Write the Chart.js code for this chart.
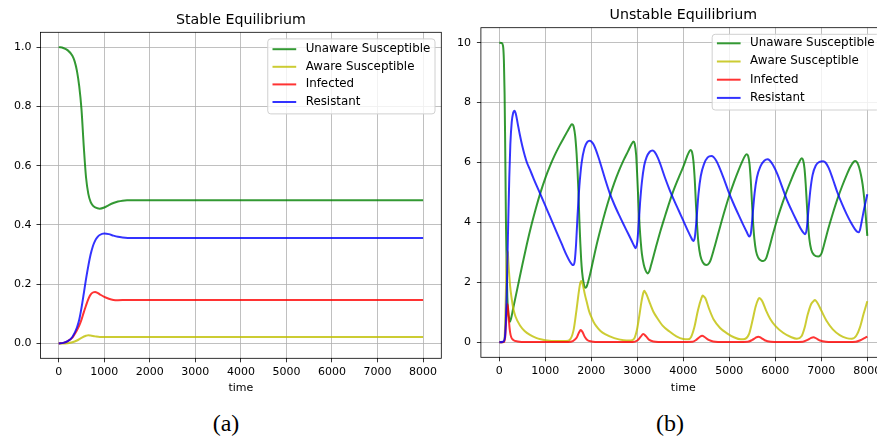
<!DOCTYPE html>
<html>
<head>
<meta charset="utf-8">
<title>Stable and Unstable Equilibrium</title>
<script src="https://cdn.jsdelivr.net/npm/chart.js@4.4.1/dist/chart.umd.min.js"></script>
<style>
  html, body { margin: 0; padding: 0; background: #fff; overflow: hidden; width: 877px; height: 439px; }
  #wrap { position: relative; width: 877px; height: 439px; }
  canvas { position: absolute; top: 0; }
  #chartA { left: 0; }
  #chartB { left: 445px; }
  .cap { position: absolute; top: 411px; font-family: "Liberation Serif", "DejaVu Serif", serif;
         font-size: 24px; line-height: 1; color: #000; transform: translateX(-50%); white-space: nowrap; }
</style>
</head>
<body>
<div id="wrap">
  <canvas id="chartA" width="445" height="400"></canvas>
  <canvas id="chartB" width="445" height="400"></canvas>
  <div class="cap" style="left:226px">(a)</div>
  <div class="cap" style="left:670px">(b)</div>
</div>
<script>
// ---------- series labels ----------
const seriesLabels = ['Unaware Susceptible', 'Aware Susceptible', 'Infected', 'Resistant'];

// ---------- tick labels ----------
const xTicks = [0, 1000, 2000, 3000, 4000, 5000, 6000, 7000, 8000];
const yTicksA = [0.0, 0.2, 0.4, 0.6, 0.8, 1.0];
const yTicksB = [0, 2, 4, 6, 8, 10];

// ---------- (a) stable equilibrium ----------
const tUnawareA = [0,100,200,300,350,400,450,500,550,600,650,700,750,800,900,1000,1100,1200,1300,1400,1500,2000,8000];
const unawareA  = [1.000,0.997,0.989,0.971,0.952,0.920,0.868,0.790,0.665,0.560,0.505,0.478,0.465,0.459,0.455,0.459,0.467,0.474,0.479,0.482,0.483,0.483,0.483];

const tAwareA = [0,200,300,400,500,600,650,700,800,900,1000,1200,8000];
const awareA  = [0,0.001,0.004,0.010,0.019,0.026,0.028,0.027,0.024,0.022,0.022,0.022,0.022];

const tInfectedA = [0,100,200,300,400,450,500,550,600,650,700,750,800,850,900,1000,1100,1200,1300,1500,2000,8000];
const infectedA  = [0,0.002,0.008,0.020,0.045,0.060,0.080,0.105,0.128,0.150,0.165,0.172,0.174,0.171,0.166,0.157,0.151,0.147,0.146,0.147,0.147,0.147];

const tResistantA = [0,100,200,300,400,450,500,550,600,650,700,750,800,850,900,1000,1100,1200,1300,1400,1600,2000,8000];
const resistantA  = [0,0.002,0.008,0.022,0.054,0.080,0.120,0.168,0.218,0.262,0.300,0.328,0.347,0.359,0.366,0.371,0.369,0.364,0.360,0.358,0.356,0.356,0.356];

// ---------- (b) unstable equilibrium ----------
const tUnawareB = [0,50,80,100,115,125,135,146,160,175,195,215,233,260,300,400,500,600,700,800,900,1000,1100,1200,1300,1400,1480,1540,1575,1600,1620,1650,1680,1700,1720,1740,1760,1780,1800,1830,1855,1875,1900,1950,2000,2100,2200,2300,2400,2500,2600,2700,2800,2870,2915,2945,2975,3000,3025,3050,3075,3100,3140,3180,3220,3260,3300,3400,3500,3600,3700,3800,3900,4000,4080,4130,4160,4190,4220,4250,4275,4300,4330,4370,4420,4500,4560,4600,4700,4800,4900,5000,5100,5200,5280,5340,5380,5410,5440,5465,5490,5515,5545,5580,5630,5700,5740,5800,5850,5950,6050,6150,6250,6350,6450,6520,6575,6605,6635,6660,6685,6710,6740,6780,6840,6935,7000,7050,7150,7250,7350,7450,7550,7630,7700,7740,7780,7820,7860,7900,7940,7970,8000];
const unawareB  = [10.0,9.99,9.9,9.4,8.3,7.0,5.5,3.8,2.5,1.5,1.0,0.8,0.69,0.82,1.12,1.85,2.58,3.28,3.92,4.5,5.02,5.48,5.88,6.23,6.54,6.82,7.04,7.2,7.28,7.26,7.18,6.88,6.3,5.75,5.05,4.1,3.35,2.75,2.35,2.0,1.85,1.82,1.86,2.12,2.45,3.15,3.77,4.34,4.86,5.32,5.72,6.07,6.38,6.6,6.7,6.62,6.25,5.5,4.65,3.9,3.35,2.95,2.6,2.4,2.3,2.37,2.58,3.15,3.7,4.2,4.68,5.12,5.5,5.86,6.2,6.37,6.42,6.35,6.05,5.4,4.6,3.9,3.3,2.9,2.68,2.58,2.64,2.77,3.3,3.86,4.4,4.9,5.34,5.74,6.03,6.22,6.28,6.22,5.95,5.45,4.75,4.05,3.45,3.05,2.82,2.72,2.71,2.8,3.05,3.62,4.15,4.62,5.05,5.44,5.8,6.02,6.14,6.08,5.8,5.3,4.65,4.0,3.45,3.1,2.92,2.86,2.95,3.2,3.78,4.3,4.78,5.2,5.58,5.85,6.02,6.05,6.0,5.85,5.6,5.25,4.7,4.15,3.55];

const tAwareB = [0,100,120,140,155,170,185,200,233,270,304,350,450,550,667,800,900,1000,1250,1450,1550,1620,1680,1730,1760,1780,1800,1820,1860,1900,1950,2000,2050,2100,2200,2300,2500,2700,2850,2930,2990,3040,3090,3130,3150,3170,3200,3280,3350,3430,3550,3700,3850,4000,4100,4170,4240,4320,4400,4420,4440,4480,4560,4660,4800,4950,5100,5250,5350,5430,5500,5570,5630,5650,5670,5720,5800,5890,6000,6170,6350,6470,6570,6640,6700,6780,6840,6860,6880,6930,7000,7120,7250,7400,7550,7660,7760,7840,7920,8000];
const awareB  = [0,0.02,0.3,1.4,2.5,3.05,3.0,2.6,1.91,1.45,1.13,0.87,0.56,0.38,0.25,0.15,0.1,0.07,0.04,0.04,0.12,0.45,1.1,1.7,1.98,2.05,2.0,1.9,1.6,1.35,1.05,0.85,0.68,0.56,0.38,0.27,0.14,0.07,0.06,0.12,0.4,0.85,1.35,1.65,1.72,1.68,1.6,1.28,1.02,0.82,0.56,0.36,0.2,0.11,0.1,0.18,0.5,1.08,1.5,1.56,1.54,1.47,1.12,0.76,0.48,0.3,0.17,0.1,0.12,0.28,0.7,1.18,1.44,1.48,1.46,1.36,1.06,0.78,0.55,0.32,0.17,0.12,0.2,0.5,0.9,1.28,1.39,1.41,1.39,1.28,1.06,0.7,0.43,0.24,0.14,0.12,0.22,0.5,0.95,1.37];

const tInfectedB = [0,100,130,150,165,175,190,210,233,260,304,400,600,1500,1600,1680,1730,1770,1810,1860,1920,2000,2200,2900,3000,3070,3130,3190,3260,3350,3600,4200,4280,4350,4410,4470,4550,4650,4900,5400,5500,5570,5630,5690,5770,5900,6100,6600,6700,6770,6830,6890,6970,7100,7400,7750,7850,7950,8000];
const infectedB  = [0,0.01,0.2,0.75,1.15,1.28,1.15,0.7,0.35,0.17,0.08,0.03,0.01,0.01,0.04,0.15,0.32,0.41,0.34,0.18,0.07,0.03,0.01,0.01,0.06,0.18,0.28,0.2,0.08,0.03,0.01,0.02,0.08,0.17,0.22,0.17,0.08,0.03,0.01,0.02,0.08,0.15,0.19,0.15,0.07,0.02,0.01,0.02,0.08,0.14,0.17,0.13,0.06,0.02,0.01,0.02,0.07,0.15,0.19];

const tResistantB = [0,80,120,140,160,180,200,217,240,270,300,330,360,400,450,500,550,600,667,750,885,1000,1100,1248,1350,1465,1540,1580,1610,1640,1670,1700,1740,1790,1850,1910,1965,2000,2050,2100,2150,2200,2300,2400,2500,2600,2700,2800,2880,2930,2960,3000,3030,3060,3100,3150,3200,3270,3330,3380,3450,3500,3600,3700,3800,3900,4000,4100,4170,4217,4250,4290,4330,4380,4450,4530,4610,4660,4720,4800,4900,5000,5100,5200,5300,5380,5435,5470,5510,5550,5600,5680,5760,5830,5880,5950,6050,6150,6250,6350,6450,6550,6610,6646,6680,6720,6760,6810,6880,6960,7040,7090,7160,7250,7350,7450,7550,7650,7730,7780,7810,7840,7880,7930,8000];
const resistantB  = [0,0.02,0.15,0.6,1.6,3.0,4.4,5.5,6.6,7.35,7.65,7.73,7.62,7.3,6.9,6.55,6.25,6.0,5.76,5.45,4.97,4.56,4.2,3.67,3.31,2.9,2.68,2.6,2.58,2.72,3.3,4.2,5.2,6.0,6.48,6.68,6.73,6.7,6.6,6.42,6.2,5.96,5.45,4.98,4.6,4.26,3.94,3.63,3.38,3.22,3.14,3.35,3.95,4.65,5.35,5.9,6.17,6.36,6.4,6.35,6.15,5.95,5.5,5.1,4.74,4.4,4.06,3.72,3.5,3.38,3.5,4.15,4.95,5.55,5.95,6.17,6.22,6.18,6.05,5.78,5.38,4.96,4.6,4.26,3.93,3.68,3.53,3.65,4.3,4.98,5.5,5.88,6.06,6.11,6.07,5.92,5.6,5.18,4.76,4.42,4.1,3.8,3.66,3.61,3.75,4.4,5.05,5.58,5.9,6.02,6.04,6.0,5.82,5.45,5.0,4.62,4.28,3.98,3.78,3.69,3.67,3.75,4.05,4.45,4.94];

// ---------- styling ----------
const FONT = '"DejaVu Sans", "Liberation Sans", sans-serif';
const lineColors = ['rgba(0,128,0,0.8)', 'rgba(191,191,0,0.8)', 'rgba(255,0,0,0.8)', 'rgba(0,0,255,0.8)'];
const drawOrder = [4, 3, 2, 1]; // resistant drawn on top

function toPoints(ts, vs) { return ts.map((t, i) => ({ x: t, y: vs[i] })); }

function makeDatasets(series) {
  return series.map((s, i) => ({
    label: seriesLabels[i],
    data: toPoints(s[0], s[1]),
    borderColor: lineColors[i],
    backgroundColor: lineColors[i],
    borderWidth: 2,
    pointRadius: 0,
    fill: false,
    cubicInterpolationMode: 'monotone',
    order: drawOrder[i]
  }));
}

// axes frame, title and in-plot legend
const framePlugin = {
  id: 'framePlugin',
  afterDatasetsDraw(chart, args, o) {
    const { ctx, chartArea: a } = chart;
    ctx.save();
    // frame
    ctx.strokeStyle = '#000';
    ctx.lineWidth = 0.8;
    ctx.strokeRect(a.left, a.top, a.right - a.left, a.bottom - a.top);
    // title
    ctx.fillStyle = '#000';
    ctx.font = '14.2px ' + FONT;
    ctx.textAlign = 'center';
    ctx.textBaseline = 'alphabetic';
    ctx.fillText(o.title, (a.left + a.right) / 2, a.top - 8.5);
    // legend
    const fs = 11.85;
    ctx.font = fs + 'px ' + FONT;
    const sets = chart.data.datasets;
    const tw = Math.max(...sets.map(d => ctx.measureText(d.label).width));
    const pad = 0.4 * fs, hl = 2 * fs, htp = 0.8 * fs;
    const w = pad + hl + htp + tw + pad;
    const h = o.boxH;
    const x0 = a.right - 6.3 - w;
    const y0 = a.top + 6.6;
    ctx.beginPath();
    ctx.roundRect(x0, y0, w, h, 3);
    ctx.fillStyle = 'rgba(255,255,255,0.8)';
    ctx.fill();
    ctx.strokeStyle = '#d0d0d0';
    ctx.lineWidth = 1;
    ctx.stroke();
    ctx.textAlign = 'left';
    sets.forEach((d, i) => {
      const cy = y0 + o.firstRow + i * o.rowH;
      ctx.beginPath();
      ctx.moveTo(x0 + pad, cy);
      ctx.lineTo(x0 + pad + hl, cy);
      ctx.strokeStyle = d.borderColor;
      ctx.lineWidth = 2;
      ctx.stroke();
      ctx.fillStyle = '#000';
      ctx.fillText(d.label, x0 + pad + hl + htp, cy + 0.25 * fs);
    });
    ctx.restore();
  }
};

function makeChart(id, cfg) {
  return new Chart(document.getElementById(id), {
    type: 'line',
    data: { datasets: makeDatasets(cfg.series) },
    options: {
      responsive: false,
      animation: false,
      devicePixelRatio: 1,
      layout: { padding: { left: 0, right: cfg.padRight, top: cfg.padTop, bottom: 0 } },
      plugins: {
        legend: { display: false },
        tooltip: { enabled: false },
        framePlugin: { title: cfg.title, boxH: cfg.boxH, firstRow: cfg.firstRow, rowH: cfg.rowH }
      },
      scales: {
        x: {
          type: 'linear',
          min: -400, max: 8400,
          afterBuildTicks: s => { s.ticks = xTicks.map(v => ({ value: v })); },
          afterFit: s => { s.height = cfg.xHeight; },
          grid: { color: '#b0b0b0', lineWidth: 0.8, tickColor: '#000', tickLength: 4, tickWidth: 0.8 },
          border: { display: false },
          ticks: { color: '#000', font: { family: FONT, size: 11 }, padding: 3, maxRotation: 0, autoSkip: false,
                   callback: v => String(v) },
          title: { display: true, text: 'time', color: '#000', font: { family: FONT, size: 11 },
                   padding: { top: 0, bottom: 5.4 } }
        },
        y: {
          type: 'linear',
          min: cfg.yMin, max: cfg.yMax,
          afterBuildTicks: s => { s.ticks = cfg.yTicks.map(v => ({ value: v })); },
          afterFit: s => { s.width = cfg.yWidth; },
          grid: { color: '#b0b0b0', lineWidth: 0.8, tickColor: '#000', tickLength: 4, tickWidth: 0.8 },
          border: { display: false },
          ticks: { color: '#000', font: { family: FONT, size: 11 }, padding: cfg.yPad, autoSkip: false,
                   callback: cfg.yFmt }
        }
      }
    },
    plugins: [framePlugin]
  });
}

makeChart('chartA', {
  title: 'Stable Equilibrium',
  series: [[tUnawareA, unawareA], [tAwareA, awareA], [tInfectedA, infectedA], [tResistantA, resistantA]],
  yMin: -0.05, yMax: 1.05, yTicks: yTicksA, yFmt: v => v.toFixed(1),
  yWidth: 40.5, xHeight: 41.7, padTop: 32.3, padRight: 3.7, yPad: 5,
  boxH: 75, firstRow: 10.3, rowH: 17.6
});

makeChart('chartB', {
  title: 'Unstable Equilibrium',
  series: [[tUnawareB, unawareB], [tAwareB, awareB], [tInfectedB, infectedB], [tResistantB, resistantB]],
  yMin: -0.5, yMax: 10.5, yTicks: yTicksB, yFmt: v => String(v),
  yWidth: 35.9, xHeight: 42.7, padTop: 27.7, padRight: 4.3, yPad: 6,
  boxH: 75.7, firstRow: 9, rowH: 18.2
});
</script>
</body>
</html>
